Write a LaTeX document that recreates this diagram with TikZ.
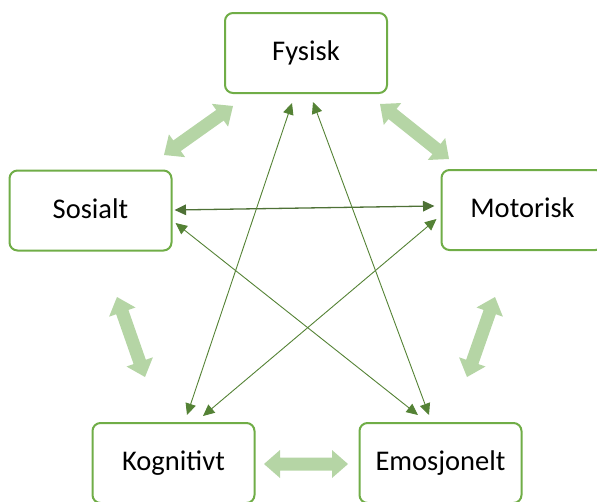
\documentclass[tikz,border=0pt]{standalone}
\usepackage{fontspec}
\setmainfont{Carlito}
\usetikzlibrary{arrows.meta,calc}
\definecolor{boxgreen}{HTML}{70AD47}
\definecolor{linkgreen}{HTML}{548235}
\definecolor{linkdark}{HTML}{4E7136}
\definecolor{fatgreen}{HTML}{B5D5A5}
\tikzset{
  area/.style={draw=boxgreen, line width=2pt, rounded corners=8pt, fill=white,
    minimum width=162pt, minimum height=80pt, inner sep=0pt, outer sep=0pt,
    font=\fontsize{28.5}{34}\selectfont, text height=18.4pt, text depth=3pt},
  >={Triangle[length=11.5pt,width=10.5pt]},
  link/.style={draw=linkgreen, line width=0.9pt, <->},
  linkstrong/.style={link, draw=linkdark, line width=1.3pt},
}
% broad two-headed arrow between two tip points
\newcommand\twinarrow[2]{%
  \fill[fatgreen] (#1)
    -- ($(#1)!16pt!(#2)!14pt!90:(#2)$)
    -- ($(#1)!16pt!(#2)!6.5pt!90:(#2)$)
    -- ($(#2)!16pt!(#1)!6.5pt!-90:(#1)$)
    -- ($(#2)!16pt!(#1)!14pt!-90:(#1)$)
    -- (#2)
    -- ($(#2)!16pt!(#1)!14pt!90:(#1)$)
    -- ($(#2)!16pt!(#1)!6.5pt!90:(#1)$)
    -- ($(#1)!16pt!(#2)!6.5pt!-90:(#2)$)
    -- ($(#1)!16pt!(#2)!14pt!-90:(#2)$)
    -- cycle;}
\begin{document}
\begin{tikzpicture}[x=1pt, y=-1pt]
\useasboundingbox (0,0) rectangle (597,501);
\clip (0,0) rectangle (597,501);

% the five areas
\node[area] (fys) at (306,53)    {Fysisk};
\node[area] (sos) at (90.5,210.5) {Sosialt};
\node[area] (mot) at (522.5,210) {Motorisk};
\node[area] (kog) at (173.5,463) {Kognitivt};
\node[area] (emo) at (440.5,463) {Emosjonelt};

% broad arrows between neighbouring areas
\coordinate (fsA) at (164,155); \coordinate (fsB) at (233,106);
\coordinate (fmA) at (380,104); \coordinate (fmB) at (449,159);
\coordinate (skA) at (117,297); \coordinate (skB) at (145,377);
\coordinate (meA) at (495,297); \coordinate (meB) at (467,377);
\coordinate (keA) at (264,464); \coordinate (keB) at (348,464);
\twinarrow{fsA}{fsB}
\twinarrow{fmA}{fmB}
\twinarrow{skA}{skB}
\twinarrow{meA}{meB}
\twinarrow{keA}{keB}

% thin links across the star
\draw[linkstrong] ($(sos.east)+(3,-0.5)$) -- ($(mot.west)+(-7,-4)$);
\draw[link] ($(sos.east)+(4,12.5)$) -- ($(emo.north)+(-22.5,-8)$);
\draw[link] ($(mot.west)+(-5,9)$) -- ($(kog.north)+(29.5,-7)$);
\draw[link] ($(fys.south)+(-14,10)$) -- ($(kog.north)+(13.5,-8)$);
\draw[link] ($(fys.south)+(7,9)$) -- ($(emo.north)+(-11.5,-8)$);
\end{tikzpicture}
\end{document}
